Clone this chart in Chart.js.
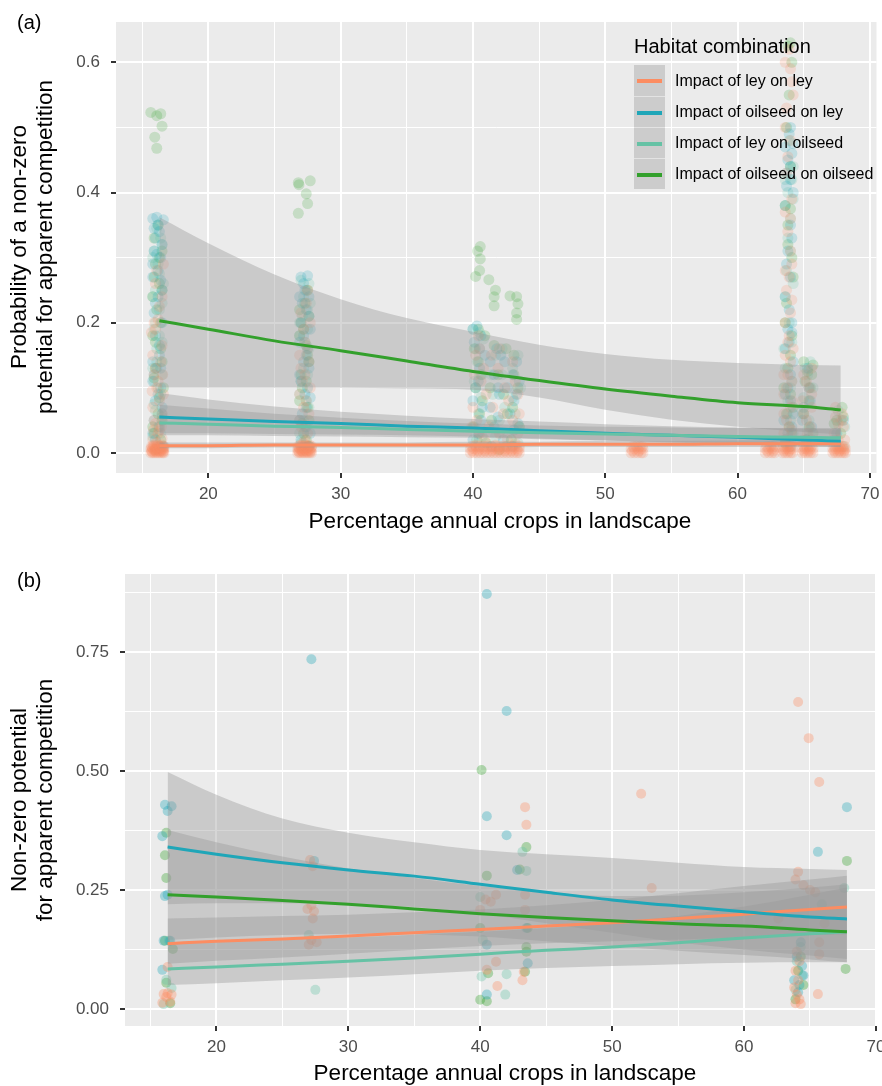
<!DOCTYPE html>
<html><head><meta charset="utf-8">
<script src="https://cdn.jsdelivr.net/npm/chart.js@4.4.1/dist/chart.umd.min.js"></script>
<style>
html,body{margin:0;padding:0;background:#fff;width:882px;height:1086px;overflow:hidden;font-family:"Liberation Sans",Arial,Helvetica,sans-serif;}
canvas{position:absolute;left:0;}
#ca{top:0;}
#cb{top:545px;}
.tag{position:absolute;left:17px;font-size:20px;line-height:20px;color:#000;}
.xt{position:absolute;width:600px;text-align:center;font-size:22.5px;line-height:26px;color:#000;white-space:nowrap;}
.yt{position:absolute;width:460px;text-align:center;font-size:22.5px;line-height:26px;color:#000;white-space:nowrap;transform:translate(-50%,-50%) rotate(-90deg);}
.lgt{position:absolute;left:634px;top:36px;font-size:20px;line-height:20px;color:#000;white-space:nowrap;}
.key{position:absolute;left:634px;width:31px;height:31px;background:#CCCCCC;box-sizing:border-box;}
.key i{position:absolute;left:3px;width:25px;height:4px;top:13.5px;}
.lab{position:absolute;left:675px;font-size:16px;line-height:20px;color:#000;white-space:nowrap;}
</style></head>
<body>
<canvas id="ca" width="882" height="545"></canvas>
<canvas id="cb" width="882" height="541"></canvas>
<div class="tag" style="top:12px">(a)</div>
<div class="tag" style="top:570px">(b)</div>
<div class="xt" style="left:200px;top:508px">Percentage annual crops in landscape</div>
<div class="xt" style="left:205px;top:1060px">Percentage annual crops in landscape</div>
<div class="yt" style="left:32px;top:247px">Probability of a non-zero<br>potential for apparent competition</div>
<div class="yt" style="left:32px;top:800px">Non-zero potential<br>for apparent competition</div>
<div id="legend"></div>
<script>
// ---------------- DATA ----------------
const seriesNames = ['Impact of ley on ley','Impact of oilseed on ley','Impact of ley on oilseed','Impact of oilseed on oilseed'];
const seriesColors = ['#FC8D62','#1FA6B8','#66C2A5','#33A02C'];

const a_xTicks = [15,20,25,30,35,40,45,50,55,60,65,70];
const a_xLabels = [20,30,40,50,60,70];
const a_yTicks = [0,0.1,0.2,0.3,0.4,0.5,0.6];
const a_yLabels = [0,0.2,0.4,0.6];
const b_xTicks = [15,20,25,30,35,40,45,50,55,60,65,70];
const b_xLabels = [20,30,40,50,60,70];
const b_yTicks = [0,0.125,0.25,0.375,0.5,0.625,0.75,0.875];
const b_yLabels = [0,0.25,0.5,0.75];

const fitX = [16.3,20,25,30,35,40,45,50,55,60,65,67.8];

// panel (a) fitted curves and confidence bands
const a_fit_leyley = [0.011,0.011,0.012,0.012,0.012,0.012,0.013,0.013,0.013,0.014,0.014,0.014];
const a_lo_leyley  = [0.007,0.007,0.008,0.008,0.008,0.008,0.009,0.009,0.009,0.009,0.009,0.009];
const a_hi_leyley  = [0.016,0.016,0.016,0.016,0.016,0.017,0.017,0.018,0.018,0.019,0.019,0.019];
const a_fit_oilley = [0.055,0.052,0.048,0.045,0.041,0.038,0.034,0.030,0.027,0.024,0.020,0.018];
const a_lo_oilley  = [0.030,0.030,0.029,0.028,0.027,0.025,0.022,0.019,0.016,0.013,0.010,0.009];
const a_hi_oilley  = [0.092,0.082,0.071,0.063,0.057,0.052,0.048,0.044,0.041,0.039,0.037,0.036];
const a_fit_leyoil = [0.046,0.044,0.041,0.039,0.036,0.033,0.031,0.029,0.027,0.025,0.024,0.023];
const a_lo_leyoil  = [0.027,0.027,0.026,0.025,0.024,0.023,0.021,0.019,0.017,0.015,0.013,0.012];
const a_hi_leyoil  = [0.074,0.068,0.060,0.054,0.049,0.045,0.042,0.040,0.039,0.038,0.038,0.038];
const a_fit_oiloil = [0.203,0.190,0.172,0.157,0.141,0.125,0.111,0.098,0.087,0.077,0.071,0.066];
const a_lo_oiloil  = [0.100,0.100,0.100,0.100,0.099,0.097,0.085,0.066,0.051,0.040,0.032,0.028];
const a_hi_oiloil  = [0.362,0.322,0.274,0.236,0.207,0.186,0.166,0.152,0.143,0.138,0.135,0.134];

// panel (b) fitted curves and confidence bands
const b_fit_leyley = [0.137,0.142,0.147,0.153,0.160,0.167,0.174,0.181,0.190,0.199,0.209,0.214];
const b_lo_leyley  = [0.095,0.101,0.108,0.116,0.124,0.132,0.138,0.142,0.146,0.150,0.155,0.157];
const b_hi_leyley  = [0.190,0.192,0.195,0.198,0.203,0.209,0.218,0.229,0.243,0.258,0.272,0.280];
const b_fit_oilley = [0.340,0.325,0.307,0.292,0.279,0.262,0.245,0.229,0.216,0.204,0.193,0.189];
const b_lo_oilley  = [0.220,0.222,0.222,0.220,0.214,0.200,0.180,0.160,0.140,0.125,0.112,0.105];
const b_hi_oilley  = [0.498,0.450,0.400,0.370,0.350,0.334,0.325,0.317,0.307,0.298,0.294,0.292];
const b_fit_leyoil = [0.084,0.088,0.094,0.100,0.107,0.115,0.123,0.130,0.139,0.149,0.158,0.162];
const b_lo_leyoil  = [0.050,0.054,0.060,0.066,0.073,0.080,0.086,0.090,0.094,0.097,0.098,0.098];
const b_hi_leyoil  = [0.140,0.142,0.146,0.150,0.156,0.162,0.170,0.180,0.195,0.215,0.240,0.255];
const b_fit_oiloil = [0.240,0.235,0.228,0.220,0.210,0.200,0.192,0.185,0.179,0.174,0.166,0.162];
const b_lo_oiloil  = [0.145,0.150,0.155,0.158,0.157,0.152,0.142,0.132,0.122,0.113,0.104,0.098];
const b_hi_oiloil  = [0.376,0.350,0.320,0.295,0.275,0.258,0.245,0.237,0.238,0.245,0.255,0.262];

// panel (a) observations [x, y]
const a_pts_leyley = [
[15.65,0],[15.8,0],[15.95,0],[16.1,0],[16.25,0],[16.4,0],[16.55,0],[16.65,0],
[15.65,0.006],[15.8,0.006],[15.95,0.006],[16.1,0.006],[16.25,0.006],[16.4,0.006],[16.55,0.006],[16.65,0.006],
[15.7,0.003],[16.0,0.003],[16.3,0.003],[16.6,0.003],
[15.7,0.01],[15.9,0.01],[16.1,0.01],[16.3,0.01],[16.5,0.01],[16.65,0.01],[15.75,0.002],[16.05,0.002],[16.35,0.002],[16.6,0.002],
[15.75,0.008],[15.9,0.004],[16.05,0.008],[16.2,0.004],[16.35,0.008],[16.5,0.004],[16.6,0.008],[15.85,0.012],[16.2,0.012],[16.5,0.012],
[15.8,0.02],[16.5,0.022],[16.2,0.03],[16.0,0.045],[16.5,0.06],[15.8,0.07],[16.3,0.08],[16.1,0.1],[15.9,0.12],[16.4,0.14],[15.8,0.15],[15.7,0.185],[16.0,0.19],[16.2,0.205],[16.5,0.24],[16.0,0.26],
[16.3,0.035],[15.9,0.05],[16.6,0.09],[16.2,0.11],[16.0,0.13],[16.5,0.165],[15.9,0.2],[16.3,0.225],[16.1,0.28],[16.6,0.29],[15.75,0.095],[16.45,0.04],[16.1,0.015],[15.85,0.035],[16.55,0.12],
[26.75,0],[26.9,0],[27.05,0],[27.2,0],[27.35,0],[27.5,0],[27.65,0],[27.8,0],
[26.75,0.006],[26.9,0.006],[27.05,0.006],[27.2,0.006],[27.35,0.006],[27.5,0.006],[27.65,0.006],[27.8,0.006],
[26.8,0.003],[27.1,0.003],[27.4,0.003],[27.7,0.003],
[26.8,0.01],[27.0,0.01],[27.2,0.01],[27.4,0.01],[27.6,0.01],[27.8,0.01],[26.85,0.002],[27.15,0.002],[27.45,0.002],[27.75,0.002],
[26.85,0.008],[27.0,0.004],[27.15,0.008],[27.3,0.004],[27.45,0.008],[27.6,0.004],[27.75,0.008],[26.95,0.012],[27.3,0.012],[27.65,0.012],
[27.3,0.02],[27.0,0.04],[27.6,0.06],[27.2,0.07],[26.9,0.09],[27.3,0.12],[27.0,0.13],[27.5,0.16],[27.2,0.19],[27.4,0.23],
[27.5,0.03],[26.9,0.05],[27.4,0.08],[27.7,0.1],[27.1,0.11],[27.6,0.14],[26.9,0.15],[27.3,0.17],[27.7,0.2],[27.0,0.215],[27.5,0.25],[27.2,0.015],
[39.8,0],[40.05,0],[40.3,0],[40.55,0],[40.8,0],[41.05,0],[41.3,0],[41.55,0],[41.8,0],[42.05,0],[42.3,0],[42.55,0],[42.8,0],[43.05,0],[43.3,0],[43.5,0],
[39.8,0.006],[40.05,0.006],[40.3,0.006],[40.55,0.006],[40.8,0.006],[41.05,0.006],[41.3,0.006],[41.55,0.006],[41.8,0.006],[42.05,0.006],[42.3,0.006],[42.55,0.006],[42.8,0.006],[43.05,0.006],[43.3,0.006],[43.5,0.006],
[39.9,0.01],[40.2,0.01],[40.5,0.01],[40.8,0.01],[41.1,0.01],[41.4,0.01],[41.7,0.01],[42.0,0.01],[42.3,0.01],[42.6,0.01],[42.9,0.01],[43.2,0.01],[43.5,0.01],
[39.95,0.003],[40.4,0.003],[40.9,0.003],[41.4,0.003],[41.9,0.003],[42.4,0.003],[42.9,0.003],[43.4,0.003],
[40.2,0.012],[41.7,0.012],[43.2,0.014],[40.5,0.03],[42.0,0.03],[43.0,0.05],[40.0,0.07],[41.5,0.07],[43.4,0.09],[40.6,0.11],[41.9,0.13],[40.2,0.15],[40.4,0.18],
[40.9,0.02],[42.6,0.02],[41.2,0.04],[43.4,0.03],[40.3,0.05],[42.3,0.06],[41.0,0.09],[42.7,0.08],[40.8,0.13],[43.2,0.11],[42.4,0.1],[41.4,0.15],[43.0,0.14],[40.5,0.16],[42.0,0.16],[40.1,0.12],[39.9,0.04],[43.5,0.06],
[51.95,0],[52.2,0],[52.45,0],[52.7,0],[52.85,0],[51.95,0.006],[52.2,0.006],[52.45,0.006],[52.7,0.006],[52.85,0.006],
[52.1,0.01],[52.35,0.01],[52.6,0.01],[52.8,0.01],[52.05,0.003],[52.55,0.003],
[62.1,0],[62.35,0],[62.6,0],[62.8,0],[62.1,0.006],[62.35,0.006],[62.6,0.006],[62.8,0.006],[62.2,0.01],[62.5,0.01],[62.75,0.01],[62.25,0.003],[62.7,0.003],
[63.4,0],[63.6,0],[63.8,0],[64.0,0],[64.15,0],[63.4,0.006],[63.6,0.006],[63.8,0.006],[64.0,0.006],[64.15,0.006],
[63.5,0.01],[63.7,0.01],[63.9,0.01],[64.1,0.01],[63.5,0.003],[63.9,0.003],
[63.6,0.02],[63.9,0.04],[63.5,0.06],[64.1,0.08],[63.7,0.1],[63.5,0.12],[64.0,0.14],[63.8,0.17],[63.6,0.2],[64.0,0.215],[63.9,0.27],[63.6,0.28],[64.1,0.29],[63.8,0.34],[64.0,0.36],[63.7,0.43],[63.6,0.5],[64.2,0.55],[64.0,0.59],[63.6,0.6],
[63.9,0.62],[64.1,0.57],[63.7,0.53],[64.0,0.48],[63.8,0.455],[64.1,0.39],[63.6,0.37],[64.0,0.31],[63.7,0.25],[64.1,0.235],[63.9,0.18],[64.2,0.16],[63.6,0.15],[63.8,0.12],[64.1,0.11],[63.5,0.09],[64.0,0.07],[63.7,0.05],[64.1,0.035],[63.5,0.03],[64.0,0.015],
[64.9,0],[65.1,0],[65.3,0],[65.5,0],[65.7,0],[64.9,0.006],[65.1,0.006],[65.3,0.006],[65.5,0.006],[65.7,0.006],
[65.0,0.01],[65.2,0.01],[65.4,0.01],[65.6,0.01],[65.0,0.003],[65.4,0.003],
[65.3,0.03],[65.0,0.06],[65.6,0.09],[65.2,0.11],
[65.0,0.02],[65.5,0.04],[65.2,0.05],[65.6,0.07],[64.9,0.08],[65.4,0.1],[65.6,0.13],[65.0,0.12],
[67.2,0],[67.4,0],[67.6,0],[67.8,0],[68.0,0],[68.15,0],[67.2,0.006],[67.4,0.006],[67.6,0.006],[67.8,0.006],[68.0,0.006],[68.15,0.006],
[67.3,0.01],[67.5,0.01],[67.7,0.01],[67.9,0.01],[68.1,0.01],[67.3,0.003],[67.7,0.003],[68.05,0.003],
[67.6,0.02],[68.0,0.04],[67.9,0.06],[67.4,0.07],
[67.3,0.03],[67.9,0.05],[68.1,0.02],[67.6,0.045],[67.4,0.055]
];
const a_pts_oilley = [
[15.8,0.36],[16.1,0.362],[16.6,0.358],[16.3,0.34],[16.0,0.33],[15.9,0.31],[16.4,0.30],[16.2,0.28],[15.8,0.27],[16.5,0.25],[16.0,0.23],[16.3,0.15],[15.8,0.14],[16.1,0.13],[16.4,0.13],[15.9,0.12],[16.2,0.09],[16.5,0.07],[15.9,0.05],[16.3,0.04],[16.0,0.02],[16.6,0.01],
[16.2,0.35],[15.9,0.345],[16.5,0.32],[16.1,0.305],[15.8,0.29],[16.4,0.265],[16.2,0.24],[15.9,0.215],[16.5,0.2],[16.0,0.18],[16.3,0.165],[15.8,0.11],[16.4,0.1],[16.0,0.08],[16.5,0.06],[15.8,0.03],
[27.0,0.27],[27.5,0.272],[27.3,0.25],[27.1,0.23],[27.6,0.21],[27.2,0.18],[27.4,0.15],[26.9,0.12],[27.5,0.10],[27.3,0.09],[27.7,0.085],[27.1,0.06],[27.4,0.04],[27.0,0.02],[27.6,0.01],
[27.2,0.26],[26.9,0.24],[27.6,0.24],[27.4,0.22],[27.0,0.2],[27.7,0.19],[26.9,0.17],[27.5,0.16],[27.2,0.14],[27.6,0.13],[27.0,0.11],[27.4,0.07],[26.9,0.05],[27.7,0.03],
[40.3,0.195],[40.6,0.18],[40.1,0.17],[41.8,0.16],[42.1,0.15],[43.3,0.14],[40.5,0.13],[41.6,0.12],[43.5,0.11],[40.2,0.10],[42.0,0.09],[43.1,0.08],[40.7,0.07],[41.9,0.055],[43.4,0.045],[40.4,0.03],[42.3,0.02],[43.0,0.01],
[40.0,0.19],[40.5,0.16],[40.9,0.15],[41.3,0.14],[42.4,0.14],[43.0,0.12],[40.4,0.11],[41.9,0.1],[42.6,0.1],[43.3,0.09],[40.0,0.08],[41.3,0.07],[42.8,0.06],[40.6,0.05],[41.6,0.04],[43.1,0.035],[40.0,0.02],[41.4,0.01],
[64.0,0.50],[63.6,0.47],[64.1,0.46],[63.8,0.45],[64.0,0.44],[63.7,0.41],[64.2,0.40],[64.0,0.35],[63.8,0.31],[63.6,0.24],[63.8,0.19],[64.1,0.185],[63.9,0.17],[64.0,0.12],[63.6,0.09],[64.2,0.06],[63.8,0.03],[64.0,0.01],
[63.9,0.49],[64.2,0.475],[63.7,0.43],[64.0,0.42],[63.6,0.38],[64.1,0.33],[63.7,0.29],[64.0,0.27],[63.9,0.22],[64.1,0.2],[63.6,0.16],[64.2,0.14],[63.8,0.1],[64.0,0.08],[63.5,0.05],[64.1,0.04],
[65.4,0.10],[65.0,0.07],[65.6,0.04],[65.2,0.02],[65.5,0.08],[64.9,0.05],[65.3,0.13],[67.5,0.03],[68.0,0.05]
];
const a_pts_leyoil = [
[16.4,0.33],[15.9,0.31],[16.2,0.29],[16.6,0.26],[15.8,0.24],[16.3,0.22],[16.0,0.20],[16.5,0.17],[16.1,0.16],[15.9,0.11],[16.4,0.09],[16.0,0.065],[16.5,0.055],[16.2,0.04],[15.8,0.025],[16.3,0.01],
[16.1,0.345],[16.5,0.32],[15.8,0.3],[16.3,0.275],[16.0,0.25],[16.5,0.23],[15.9,0.19],[16.3,0.18],[16.1,0.14],[15.8,0.13],[16.5,0.12],[16.2,0.1],[15.9,0.075],[16.4,0.03],
[27.6,0.26],[27.2,0.24],[27.5,0.22],[26.9,0.20],[27.3,0.17],[27.6,0.14],[27.0,0.11],[27.4,0.08],[27.2,0.05],[26.9,0.03],[27.5,0.01],
[27.0,0.265],[27.4,0.25],[27.7,0.23],[27.1,0.21],[27.5,0.19],[26.9,0.18],[27.6,0.16],[27.2,0.13],[27.5,0.12],[26.9,0.09],[27.6,0.07],[27.3,0.04],[27.0,0.015],
[40.0,0.19],[40.8,0.175],[42.2,0.16],[40.3,0.14],[43.0,0.13],[41.4,0.12],[43.6,0.10],[40.6,0.085],[42.4,0.07],[43.2,0.06],[40.1,0.04],[41.7,0.025],[43.4,0.015],
[40.5,0.185],[40.2,0.16],[41.7,0.15],[43.4,0.15],[40.7,0.12],[42.2,0.12],[40.1,0.11],[41.5,0.09],[43.0,0.085],[40.4,0.06],[42.0,0.05],[43.5,0.04],[40.7,0.025],[42.5,0.01],
[64.1,0.42],[63.8,0.40],[64.2,0.39],[64.0,0.31],[63.7,0.28],[63.6,0.24],[63.5,0.16],[64.1,0.11],[63.8,0.08],[64.0,0.05],[63.6,0.02],
[63.9,0.48],[64.2,0.44],[63.6,0.42],[64.0,0.36],[63.8,0.33],[64.2,0.26],[63.9,0.2],[64.1,0.17],[63.6,0.13],[64.0,0.1],[63.8,0.06],[64.2,0.03],
[65.3,0.12],[65.7,0.10],[65.0,0.085],[65.4,0.05],[65.6,0.02],[65.5,0.14],[65.1,0.13],[64.9,0.06],[65.3,0.035],
[67.6,0.065],[68.1,0.04],[67.3,0.02],[67.8,0.05],[68.0,0.01]
];
const a_pts_oiloil = [
[15.65,0.523],[16.1,0.518],[16.4,0.521],[16.5,0.502],[15.95,0.485],[16.1,0.468],[16.3,0.30],[15.9,0.27],[16.5,0.25],[16.1,0.22],[15.8,0.18],[16.4,0.16],[16.0,0.13],[16.6,0.10],[16.2,0.06],[15.8,0.04],[16.4,0.02],[16.0,0.005],
[16.2,0.35],[15.9,0.33],[16.5,0.31],[16.0,0.29],[16.3,0.26],[15.8,0.24],[16.4,0.2],[16.0,0.17],[16.5,0.14],[15.9,0.115],[16.3,0.085],[16.5,0.05],[15.9,0.03],
[26.8,0.415],[27.7,0.418],[26.85,0.412],[27.4,0.398],[27.5,0.383],[26.8,0.368],[27.3,0.23],[27.0,0.20],[27.4,0.165],[27.6,0.14],[27.1,0.10],[27.5,0.07],[27.2,0.03],[27.6,0.01],
[27.5,0.25],[26.9,0.22],[27.6,0.21],[27.2,0.19],[26.9,0.18],[27.5,0.15],[27.0,0.12],[27.4,0.11],[26.9,0.08],[27.6,0.05],[27.1,0.045],[27.4,0.02],
[40.55,0.317],[40.35,0.31],[40.55,0.298],[40.5,0.28],[40.2,0.271],[41.2,0.266],[41.7,0.25],[41.6,0.24],[41.6,0.226],[42.8,0.241],[43.3,0.24],[43.4,0.229],[43.3,0.215],[43.3,0.205],[40.9,0.18],[42.5,0.16],[40.4,0.14],[43.1,0.12],[41.3,0.10],[40.7,0.08],[42.6,0.06],[43.5,0.04],[40.3,0.02],[42.0,0.005],
[40.4,0.19],[40.1,0.16],[41.6,0.165],[43.1,0.15],[40.6,0.12],[41.9,0.12],[43.4,0.1],[40.2,0.1],[42.3,0.09],[40.5,0.06],[41.4,0.05],[43.0,0.07],[40.0,0.04],[42.9,0.02],[41.0,0.015],
[64.0,0.63],[63.8,0.625],[63.6,0.38],[64.0,0.375],[63.8,0.32],[64.1,0.30],[63.7,0.23],[64.0,0.15],[63.5,0.10],[64.2,0.07],[63.9,0.04],[63.6,0.015],
[64.1,0.6],[63.9,0.55],[63.7,0.5],[64.0,0.44],[63.8,0.35],[64.2,0.27],[63.6,0.2],[64.1,0.18],[63.8,0.13],[64.0,0.09],[63.7,0.06],[64.1,0.03],
[65.3,0.125],[65.6,0.12],[65.1,0.11],[65.5,0.10],[65.4,0.08],[65.0,0.06],[65.7,0.03],[65.7,0.135],[65.0,0.14],[65.4,0.04],[65.2,0.02],
[68.0,0.055],[67.5,0.05],[67.8,0.03],[67.9,0.07],[67.3,0.045]
];

// panel (b) observations [x, y]
const b_pts_leyley = [
[16.0,0.031],[16.3,0.033],[16.6,0.03],[16.2,0.025],[15.9,0.013],[16.5,0.015],[16.3,0.088],
[27.1,0.313],[27.3,0.3],[27.2,0.218],[26.9,0.21],[27.4,0.205],[27.3,0.19],[27.2,0.145],[27.6,0.14],[27.0,0.135],
[43.4,0.424],[43.5,0.387],[40.4,0.23],[40.8,0.225],[41.2,0.24],[43.4,0.24],[40.0,0.208],[43.4,0.208],[41.2,0.099],[40.5,0.082],[43.3,0.078],[43.2,0.06],[41.3,0.048],
[52.2,0.452],[53.0,0.254],
[64.1,0.645],[64.9,0.569],[65.7,0.477],[64.1,0.288],[63.9,0.272],[64.5,0.26],[65.0,0.25],[65.4,0.245],[62.6,0.19],[66.1,0.18],[65.7,0.14],[65.7,0.115],[65.6,0.031],
[64.0,0.12],[64.2,0.1],[63.9,0.08],[64.1,0.06],[63.8,0.045],[64.0,0.03],[64.2,0.02],[63.9,0.012],[64.3,0.01]
];
const b_pts_oilley = [
[16.1,0.429],[16.6,0.426],[16.3,0.416],[15.9,0.363],[16.1,0.237],[16.3,0.24],[16.0,0.143],[16.5,0.143],[15.9,0.082],
[27.4,0.311],[27.2,0.735],
[40.5,0.872],[42.0,0.626],[40.5,0.405],[42.0,0.365],[42.8,0.292],[43.5,0.17],[40.5,0.135],[43.6,0.096],[40.5,0.03],
[65.6,0.33],[67.8,0.424],[64.3,0.14],[64.0,0.11],[64.4,0.09],[63.8,0.06],[64.2,0.05],[64.5,0.07],[64.1,0.035]
];
const b_pts_leyoil = [
[16.4,0.143],[16.2,0.061],[16.6,0.044],[16.0,0.01],
[27.0,0.155],[27.5,0.04],
[43.2,0.33],[43.5,0.29],[40.0,0.235],[40.2,0.145],[40.1,0.068],[42.0,0.073],[41.9,0.03],
[64.0,0.1],[64.3,0.13],[63.9,0.04],[64.4,0.07],[67.6,0.254],[65.9,0.22]
];
const b_pts_oiloil = [
[16.2,0.37],[16.1,0.323],[16.2,0.275],[16.1,0.143],[16.7,0.126],[16.2,0.055],[16.5,0.012],
[40.1,0.502],[43.5,0.34],[40.5,0.28],[43.0,0.293],[40.0,0.17],[43.6,0.17],[43.5,0.13],[43.5,0.12],[40.6,0.075],[43.4,0.078],[40.0,0.019],[40.5,0.016],
[67.8,0.311],[67.7,0.084],[64.3,0.11],[64.1,0.08],[63.9,0.02],[64.5,0.05]
];

// ---------------- DRAWING ----------------
const FONT = '"Liberation Sans", Arial, Helvetica, sans-serif';
function rgba(hex,a){const n=parseInt(hex.slice(1),16);return `rgba(${n>>16&255},${n>>8&255},${n&255},${a})`;}
const toXY = arr => arr.map(p=>({x:p[0],y:p[1]}));
const curve = ys => fitX.map((x,i)=>({x:x,y:ys[i]}));

function buildDatasets(pts, fits, los, his, alpha, r){
  const ds=[];
  pts.forEach((p,i)=>ds.push({data:toXY(p),showLine:false,pointRadius:r,pointHoverRadius:r,pointBorderWidth:0,
    pointBackgroundColor:rgba(seriesColors[i],alpha),backgroundColor:rgba(seriesColors[i],alpha),borderColor:'rgba(0,0,0,0)',order:30+i}));
  los.forEach((lo,i)=>{
    ds.push({data:curve(lo),borderWidth:0,borderColor:'rgba(0,0,0,0)',pointRadius:0,fill:false,cubicInterpolationMode:'monotone',order:20+i});
    ds.push({data:curve(his[i]),borderWidth:0,borderColor:'rgba(0,0,0,0)',pointRadius:0,fill:'-1',backgroundColor:'rgba(153,153,153,0.4)',cubicInterpolationMode:'monotone',order:20+i});
  });
  fits.forEach((f,i)=>ds.push({data:curve(f),borderWidth:3,borderColor:seriesColors[i],pointRadius:0,fill:false,cubicInterpolationMode:'monotone',order:13-i}));
  return ds;
}

const bgPlugin={id:'panelBg',beforeDraw(chart){const {ctx,chartArea:a}=chart;ctx.save();ctx.fillStyle='#EBEBEB';ctx.fillRect(a.left,a.top,a.right-a.left,a.bottom-a.top);ctx.restore();}};

function scales(xr,yr,xT,xL,yT,yL,yW,xH,dec){
  const has=(arr,v)=>arr.some(a=>Math.abs(a-v)<1e-9);
  return {
    x:{type:'linear',min:xr[0],max:xr[1],
      afterBuildTicks:s=>{s.ticks=xT.map(v=>({value:v}));},
      afterFit:s=>{s.height=xH;s.paddingLeft=0;s.paddingRight=0;},
      border:{display:false},
      grid:{color:'#FFFFFF',lineWidth:c=>has(xL,c.tick.value)?2:1,drawTicks:true,tickLength:5,tickWidth:2,
        tickColor:c=>has(xL,c.tick.value)?'#333333':'rgba(0,0,0,0)'},
      ticks:{autoSkip:false,maxRotation:0,minRotation:0,padding:6,color:'#4D4D4D',font:{family:FONT,size:17},
        callback:v=>has(xL,v)?String(v):''}},
    y:{type:'linear',min:yr[0],max:yr[1],
      afterBuildTicks:s=>{s.ticks=yT.map(v=>({value:v}));},
      afterFit:s=>{s.width=yW;s.paddingTop=0;s.paddingBottom=0;},
      border:{display:false},
      grid:{color:'#FFFFFF',lineWidth:c=>has(yL,c.tick.value)?2:1,drawTicks:true,tickLength:5,tickWidth:2,
        tickColor:c=>has(yL,c.tick.value)?'#333333':'rgba(0,0,0,0)'},
      ticks:{autoSkip:false,padding:11,color:'#4D4D4D',font:{family:FONT,size:17},
        callback:v=>has(yL,v)?v.toFixed(dec):''}}
  };
}

function makeChart(id,datasets,sc,padTop){
  return new Chart(document.getElementById(id),{
    type:'line',data:{datasets},
    options:{responsive:false,animation:false,devicePixelRatio:1,events:[],
      layout:{padding:{top:padTop,right:0,left:0,bottom:0}},
      plugins:{legend:{display:false},tooltip:{enabled:false}},
      scales:sc},
    plugins:[bgPlugin]});
}

makeChart('ca',
  buildDatasets([a_pts_leyley,a_pts_oilley,a_pts_leyoil,a_pts_oiloil],
    [a_fit_leyley,a_fit_oilley,a_fit_leyoil,a_fit_oiloil],
    [a_lo_leyley,a_lo_oilley,a_lo_leyoil,a_lo_oiloil],
    [a_hi_leyley,a_hi_oilley,a_hi_leyoil,a_hi_oiloil],0.2,5.5),
  scales([13.02,70.5],[-0.031,0.662],a_xTicks,a_xLabels,a_yTicks,a_yLabels,116,72,1),22);

makeChart('cb',
  buildDatasets([b_pts_leyley,b_pts_oilley,b_pts_leyoil,b_pts_oiloil],
    [b_fit_leyley,b_fit_oilley,b_fit_leyoil,b_fit_oiloil],
    [b_lo_leyley,b_lo_oilley,b_lo_leyoil,b_lo_oiloil],
    [b_hi_leyley,b_hi_oilley,b_hi_leyoil,b_hi_oiloil],0.35,5),
  scales([13.07,70.08],[-0.036,0.914],b_xTicks,b_xLabels,b_yTicks,b_yLabels,125,60,2),29);

// legend (HTML overlay inside panel a)
const lg=document.getElementById('legend');
let h='<div class="lgt">Habitat combination</div>';
seriesNames.forEach((n,i)=>{
  const top=65+31*i;
  h+=`<div class="key" style="top:${top}px;${i>0?'border-top:1px solid #E3E3E3;':''}"><i style="background:${seriesColors[i]}"></i></div>`;
  h+=`<div class="lab" style="top:${top+5.5}px">${n}</div>`;
});
lg.innerHTML=h;
</script>
</body></html>
